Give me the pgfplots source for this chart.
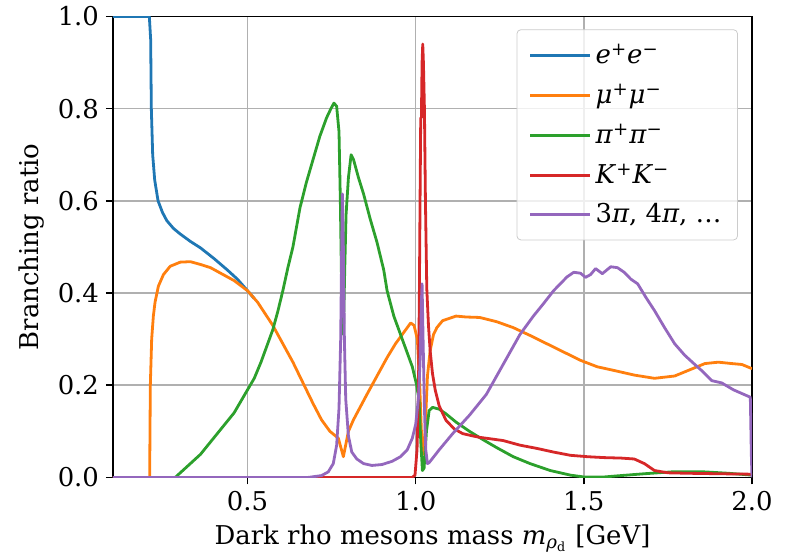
\documentclass[border=0pt]{standalone}
\usepackage{pgfplots}
\pgfplotsset{compat=1.18}
\usepackage{fontspec}
\setmainfont{DejaVu Serif}

\definecolor{c0}{HTML}{1F77B4}
\definecolor{c1}{HTML}{FF7F0E}
\definecolor{c2}{HTML}{2CA02C}
\definecolor{c3}{HTML}{D62728}
\definecolor{c4}{HTML}{9467BD}
\definecolor{gridgray}{HTML}{B0B0B0}
\definecolor{leggray}{HTML}{CCCCCC}

\begin{document}
\begin{tikzpicture}
\begin{axis}[
    width=319.5bp, height=230.5bp,
    scale only axis,
    xmin=0.1, xmax=2.0, ymin=0, ymax=1.0,
    xtick={0.5,1.0,1.5,2.0},
    ytick={0,0.2,0.4,0.6,0.8,1.0},
    xtick pos=bottom, ytick pos=left,
    tick align=outside,
    major tick length=3.5bp,
    every tick/.style={black, line width=0.8bp},
    axis line style={line width=0.8bp, black},
    grid=major,
    major grid style={gridgray, line width=0.8bp},
    tick label style={/pgf/number format/.cd, fixed, fixed zerofill,
      precision=1, assume math mode=true},
    font=\fontsize{13}{15}\selectfont,
    xlabel={Dark rho mesons mass \textit{m}\textsubscript{\textit{ρ}\textsubscript{d}} [GeV]},
    ylabel={Branching ratio},
    every axis plot/.append style={line width=1.4bp, line join=round},
    legend cell align=left,
    legend image code/.code={\draw[#1] (0bp,0bp) -- (30bp,0bp);},
    legend style={at={(0.978,0.972)}, anchor=north east,
      draw=leggray, rounded corners=2bp, fill=white, fill opacity=0.8,
      text opacity=1, row sep=4.5bp, inner xsep=6bp, inner ysep=5bp,
      font=\fontsize{13}{15}\selectfont},
    ]
\addplot[c0] coordinates {
(0.1,1)(0.208,1)(0.212,0.95)(0.214,0.80)(0.218,0.70)(0.224,0.645)(0.234,0.60)
(0.247,0.575)(0.26,0.557)(0.28,0.54)(0.30,0.528)(0.33,0.512)(0.36,0.498)
(0.40,0.475)(0.44,0.45)(0.47,0.43)(0.50,0.405)(0.52,0.388)
};
\addlegendentry{\textit{e}\textsuperscript{+}\textit{e}\textsuperscript{−}}
\addplot[c1] coordinates {
(0.1,0)(0.209,0)(0.211,0.2)(0.215,0.30)(0.22,0.35)(0.225,0.38)(0.235,0.415)
(0.25,0.44)(0.27,0.458)(0.30,0.467)(0.33,0.468)(0.36,0.462)(0.39,0.455)
(0.42,0.443)(0.46,0.427)(0.50,0.405)(0.53,0.38)(0.575,0.33)(0.605,0.29)
(0.635,0.25)(0.665,0.205)(0.695,0.16)(0.72,0.125)(0.745,0.10)(0.77,0.085)
(0.785,0.045)(0.80,0.10)(0.815,0.125)(0.855,0.18)(0.885,0.22)(0.915,0.26)
(0.94,0.29)(0.965,0.315)(0.985,0.335)(0.995,0.33)(1.005,0.30)(1.012,0.20)
(1.018,0.08)(1.022,0.05)(1.028,0.10)(1.035,0.22)(1.043,0.275)(1.053,0.31)
(1.063,0.325)(1.08,0.34)(1.10,0.345)(1.12,0.35)(1.15,0.348)(1.19,0.347)
(1.24,0.338)(1.29,0.325)(1.34,0.308)(1.39,0.29)(1.44,0.272)(1.49,0.254)
(1.54,0.24)(1.59,0.232)(1.65,0.222)(1.71,0.215)(1.77,0.22)(1.82,0.235)
(1.86,0.247)(1.90,0.25)(1.94,0.247)(1.97,0.245)(2.0,0.236)
};
\addlegendentry{\textit{μ}\textsuperscript{+}\textit{μ}\textsuperscript{−}}
\addplot[c2] coordinates {
(0.285,0)(0.30,0.01)(0.33,0.03)(0.36,0.05)(0.41,0.095)(0.46,0.14)(0.50,0.19)
(0.52,0.215)(0.54,0.25)(0.56,0.29)(0.575,0.32)(0.59,0.36)(0.605,0.405)
(0.62,0.455)(0.635,0.50)(0.656,0.585)(0.675,0.64)(0.695,0.69)(0.715,0.74)
(0.735,0.78)(0.748,0.80)(0.757,0.812)(0.765,0.805)(0.772,0.75)(0.776,0.60)
(0.779,0.45)(0.782,0.32)(0.785,0.31)(0.789,0.45)(0.793,0.57)(0.80,0.65)
(0.808,0.70)(0.815,0.69)(0.83,0.65)(0.845,0.615)(0.865,0.56)(0.885,0.51)
(0.905,0.45)(0.915,0.405)(0.935,0.35)(0.955,0.31)(0.975,0.27)(0.99,0.24)
(1.003,0.20)(1.01,0.167)(1.015,0.08)(1.02,0.015)(1.025,0.02)(1.032,0.10)
(1.04,0.145)(1.05,0.152)(1.07,0.148)(1.09,0.138)(1.12,0.12)(1.16,0.10)
(1.20,0.082)(1.24,0.065)(1.29,0.045)(1.34,0.03)(1.40,0.015)(1.46,0.005)
(1.50,0.001)(1.56,0.001)(1.61,0.004)(1.68,0.008)(1.76,0.012)(1.86,0.012)
(1.93,0.009)(2.0,0.005)
};
\addlegendentry{\textit{π}\textsuperscript{+}\textit{π}\textsuperscript{−}}
\addplot[c3] coordinates {
(0.1,0)(0.99,0)(0.998,0.005)(1.004,0.06)(1.008,0.17)(1.011,0.40)(1.013,0.60)
(1.015,0.78)(1.017,0.78)(1.019,0.90)(1.021,0.94)(1.023,0.90)(1.026,0.80)
(1.029,0.60)(1.033,0.41)(1.038,0.33)(1.043,0.275)(1.05,0.225)(1.058,0.19)
(1.07,0.155)(1.09,0.124)(1.115,0.105)(1.14,0.095)(1.17,0.09)(1.19,0.087)
(1.22,0.084)(1.26,0.08)(1.31,0.07)(1.36,0.063)(1.41,0.055)(1.46,0.048)
(1.51,0.045)(1.56,0.043)(1.61,0.042)(1.65,0.04)(1.68,0.03)(1.71,0.015)
(1.75,0.01)(1.81,0.009)(1.9,0.008)(2.0,0.007)
};
\addlegendentry{\textit{K}\textsuperscript{+}\textit{K}\textsuperscript{−}}
\addplot[c4] coordinates {
(0.1,0)(0.68,0)(0.72,0.004)(0.74,0.012)(0.755,0.03)(0.765,0.07)(0.772,0.15)
(0.777,0.30)(0.780,0.50)(0.782,0.615)(0.785,0.50)(0.788,0.30)(0.792,0.17)
(0.80,0.09)(0.81,0.055)(0.825,0.04)(0.845,0.03)(0.87,0.026)(0.90,0.028)
(0.93,0.035)(0.955,0.045)(0.975,0.06)(0.99,0.085)(1.0,0.115)(1.008,0.17)
(1.013,0.25)(1.017,0.38)(1.019,0.42)(1.022,0.30)(1.026,0.15)(1.03,0.06)
(1.035,0.03)(1.04,0.032)(1.07,0.06)(1.11,0.095)(1.16,0.135)(1.21,0.18)
(1.26,0.245)(1.31,0.31)(1.35,0.35)(1.38,0.377)(1.41,0.405)(1.43,0.42)
(1.45,0.435)(1.47,0.445)(1.49,0.443)(1.505,0.434)(1.52,0.44)(1.535,0.453)
(1.555,0.442)(1.58,0.457)(1.60,0.455)(1.62,0.445)(1.64,0.43)(1.66,0.42)
(1.685,0.39)(1.71,0.362)(1.74,0.325)(1.77,0.29)(1.80,0.265)(1.83,0.245)
(1.85,0.232)(1.88,0.21)(1.91,0.205)(1.945,0.19)(1.97,0.182)(1.995,0.174)
(1.998,0.05)(2.0,0)
};
\addlegendentry{3\textit{π}, 4\textit{π}, \ldots}
\end{axis}
\path ([shift={(-56.5bp,-39bp)}]current axis.south west)
  rectangle ([shift={(17bp,8bp)}]current axis.north east);
\end{tikzpicture}
\end{document}
